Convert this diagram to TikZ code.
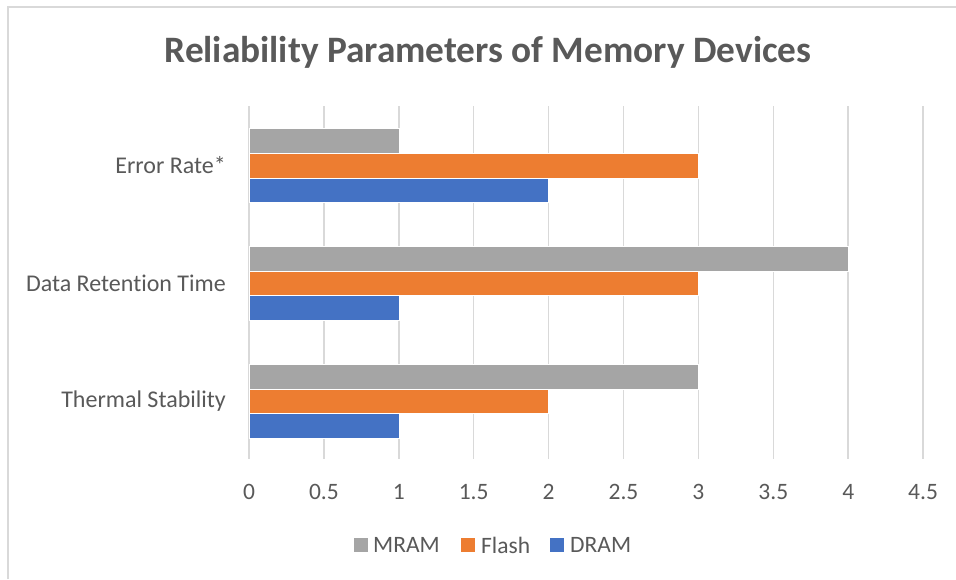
\documentclass[tikz,border=0pt]{standalone}
\usepackage{fontspec}
\setmainfont{Carlito}[Ligatures=NoCommon]
\definecolor{txt}{HTML}{595959}
\definecolor{grid}{HTML}{D9D9D9}
\definecolor{mram}{HTML}{A5A5A5}
\definecolor{flash}{HTML}{ED7D31}
\definecolor{dram}{HTML}{4472C4}
\begin{document}
\begin{tikzpicture}[x=1pt,y=-1pt,
  lbl/.style={text=txt,font=\fontsize{24}{28}\selectfont,inner sep=0pt},
  leg/.style={text=txt,font=\fontsize{23.5}{28}\selectfont,inner sep=0pt,anchor=west},
  cat/.style={lbl,anchor=east},
  tick/.style={leg,anchor=center},
  gridline/.style={draw=grid,line width=1.5pt},
  bar/.style={draw=white,line width=0.4pt}]
\useasboundingbox (0,0) rectangle (956,579);
\fill[white] (0,0) rectangle (956,579);
% frame
\draw[grid,line width=1.5pt] (8,579) -- (8,7) -- (956,7);
% title
\node[text=txt,font=\bfseries\fontsize{37.3}{44}\selectfont,inner sep=0pt] (title) at (488,52) {Reliability Parameters of Memory Devices};
% gridlines
\foreach \v in {0,0.5,...,4.5} {
  \draw[gridline] ({249+149.8*\v},106) -- ({249+149.8*\v},459);
}
% bars: group top y, values MRAM, Flash, DRAM
\foreach \y/\m/\f/\d in {128.5/1/3/2, 246/4/3/1, 364/3/2/1} {
  \fill[mram,bar] (249,\y) rectangle ({249+149.8*\m},\y+24.7);
  \fill[flash,bar] (249,\y+24.7) rectangle ({249+149.8*\f},\y+49.4);
  \fill[dram,bar] (249,\y+49.4) rectangle ({249+149.8*\d},\y+74.1);
}
% category labels
\node[cat] (c1) at (226,165) {Error Rate*};
\node[cat] (c2) at (226,283) {Data Retention Time};
\node[cat] (c3) at (226,401) {Thermal Stability};
% tick labels
\foreach \v/\t [count=\i] in {0/0,0.5/0.5,1/1,1.5/1.5,2/2,2.5/2.5,3/3,3.5/3.5,4/4,4.5/4.5} {
  \node[tick] (t\i) at ({249+149.8*\v},492) {\t};
}
% legend
\fill[mram] (354,538) rectangle (368,552);
\node[leg] (lm) at (373,545) {MRAM};
\fill[flash] (461,538) rectangle (475,552);
\node[leg] (lf) at (481,545) {Flash};
\fill[dram] (550,538) rectangle (564,552);
\node[leg] (ld) at (570,545) {DRAM};
\end{tikzpicture}
\end{document}
